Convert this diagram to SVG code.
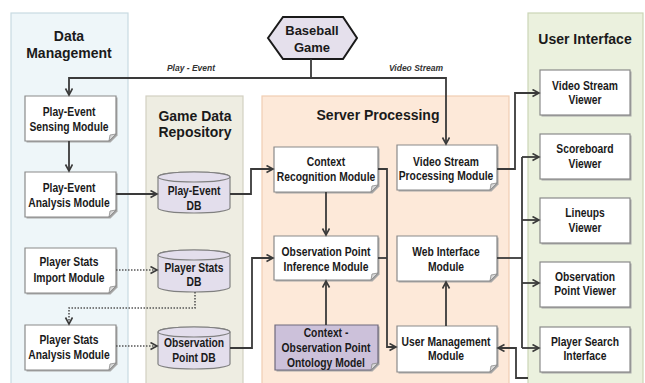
<svg xmlns="http://www.w3.org/2000/svg" width="645" height="383" viewBox="0 0 645 383">
<defs>
<marker id="arr" markerWidth="10" markerHeight="10" refX="7" refY="4" orient="auto" markerUnits="userSpaceOnUse">
<path d="M0.5,0.5 L7,4 L0.5,7.5" fill="none" stroke="#3a3a3a" stroke-width="1.6"/>
</marker>
<style>
.pt{font-family:"Liberation Sans",Arial,sans-serif;font-weight:bold;font-size:14px;fill:#1a1a1a;text-anchor:middle}
.nt{font-family:"Liberation Sans",Arial,sans-serif;font-weight:bold;font-size:12px;fill:#1a1a1a;text-anchor:middle;transform-box:fill-box;transform-origin:center;transform:scaleX(0.86)}
.el{font-family:"Liberation Sans",Arial,sans-serif;font-weight:bold;font-style:italic;font-size:8.5px;fill:#333;text-anchor:middle}
.doc{fill:#fff;stroke:#8a8a8a;stroke-width:1.2}
.sh{fill:#a8a8a8}
.fold{fill:#d8d8d8;stroke:#8a8a8a;stroke-width:0.8}
.db{fill:#e3deec;stroke:#808080;stroke-width:1.2}
.ln{fill:none;stroke:#3a3a3a;stroke-width:1.8}
.dt{fill:none;stroke:#555;stroke-width:1.6;stroke-dasharray:1.5 1.5}
</style>
</defs>

<!-- panels -->
<g id="panel-data-management">
<rect x="11" y="13" width="117" height="372" fill="#eef6f9" stroke="#c9dbe2" stroke-width="1.2"/>
<text class="pt" x="69" y="41">Data</text>
<text class="pt" x="69" y="58">Management</text>
</g>
<g id="panel-game-data-repository">
<rect x="146" y="96" width="97" height="289" fill="#eeede2" stroke="#d2d0c2" stroke-width="1.2"/>
<text class="pt" x="195" y="121">Game Data</text>
<text class="pt" x="195" y="137">Repository</text>
</g>
<g id="panel-server-processing">
<rect x="262" y="96" width="247" height="289" fill="#fde9d9" stroke="#f1cdb2" stroke-width="1.2"/>
<text class="pt" x="378" y="120">Server Processing</text>
</g>
<g id="panel-user-interface">
<rect x="528" y="13" width="115" height="372" fill="#ebf1de" stroke="#cbd6b6" stroke-width="1.2"/>
<text class="pt" x="585" y="44">User Interface</text>
</g>

<!-- Baseball Game -->
<g id="baseball-game">
<polygon points="268,38 283,17 343,17 357,38 343,59 283,59" fill="#e5e0ec" stroke="#1a1a1a" stroke-width="2"/>
<text class="pt" x="312" y="35" style="font-size:13px">Baseball</text>
<text class="pt" x="312" y="52" style="font-size:13px">Game</text>
</g>

<!-- Data Management nodes -->
<g id="play-event-sensing-module">
<path class="sh" d="M26.5,97.5 H117.5 V135.5 L110.5,142.5 H26.5 Z"/>
<path class="doc" d="M25,96 H116 V134 L109,141 H25 Z"/>
<path class="fold" d="M109,141 L110,135 L116,134 Z"/>
<text class="nt" x="69" y="116">Play-Event</text>
<text class="nt" x="69" y="131">Sensing Module</text>
</g>
<g id="play-event-analysis-module">
<path class="sh" d="M26.5,173.5 H117.5 V211.5 L110.5,218.5 H26.5 Z"/>
<path class="doc" d="M25,172 H116 V210 L109,217 H25 Z"/>
<path class="fold" d="M109,217 L110,211 L116,210 Z"/>
<text class="nt" x="69" y="192">Play-Event</text>
<text class="nt" x="69" y="207">Analysis Module</text>
</g>
<g id="player-stats-import-module">
<path class="sh" d="M26.5,249.5 H117.5 V287.5 L110.5,294.5 H26.5 Z"/>
<path class="doc" d="M25,248 H116 V286 L109,293 H25 Z"/>
<path class="fold" d="M109,293 L110,287 L116,286 Z"/>
<text class="nt" x="69" y="266">Player Stats</text>
<text class="nt" x="69" y="282">Import Module</text>
</g>
<g id="player-stats-analysis-module">
<path class="sh" d="M26.5,326.5 H117.5 V364.5 L110.5,371.5 H26.5 Z"/>
<path class="doc" d="M25,325 H116 V363 L109,370 H25 Z"/>
<path class="fold" d="M109,370 L110,364 L116,363 Z"/>
<text class="nt" x="69" y="344">Player Stats</text>
<text class="nt" x="69" y="359">Analysis Module</text>
</g>

<!-- DBs -->
<g id="play-event-db">
<path class="db" d="M158,177 A36,5 0 0 1 230,177 V208 A36,5 0 0 1 158,208 Z"/>
<ellipse class="db" cx="194" cy="177" rx="36" ry="5"/>
<text class="nt" x="194" y="195">Play-Event</text>
<text class="nt" x="194" y="210">DB</text>
</g>
<g id="player-stats-db">
<path class="db" d="M158,255 A36,5 0 0 1 230,255 V287 A36,5 0 0 1 158,287 Z"/>
<ellipse class="db" cx="194" cy="255" rx="36" ry="5"/>
<text class="nt" x="194" y="272">Player Stats</text>
<text class="nt" x="194" y="286">DB</text>
</g>
<g id="observation-point-db">
<path class="db" d="M158,332 A36,5 0 0 1 230,332 V364 A36,5 0 0 1 158,364 Z"/>
<ellipse class="db" cx="194" cy="332" rx="36" ry="5"/>
<text class="nt" x="194" y="347">Observation</text>
<text class="nt" x="194" y="362">Point DB</text>
</g>

<!-- Server nodes -->
<g id="context-recognition-module">
<path class="sh" d="M275.5,148.5 H379.5 V186.5 L372.5,193.5 H275.5 Z"/>
<path class="doc" d="M274,147 H378 V185 L371,192 H274 Z"/>
<path class="fold" d="M371,192 L372,186 L378,185 Z"/>
<text class="nt" x="326" y="166">Context</text>
<text class="nt" x="326" y="181">Recognition Module</text>
</g>
<g id="observation-point-inference-module">
<path class="sh" d="M275.5,237.5 H379.5 V274.5 L372.5,281.5 H275.5 Z"/>
<path class="doc" d="M274,236 H378 V273 L371,280 H274 Z"/>
<path class="fold" d="M371,280 L372,274 L378,273 Z"/>
<text class="nt" x="326" y="256">Observation Point</text>
<text class="nt" x="326" y="271">Inference Module</text>
</g>
<g id="ontology-model">
<path class="sh" d="M276.5,326.5 H379.5 V364.5 L372.5,371.5 H276.5 Z"/>
<path d="M275,325 H378 V363 L371,370 H275 Z" fill="#ccc1da" stroke="#6f6a7c" stroke-width="1.2"/>
<path class="fold" d="M371,370 L372,364 L378,363 Z"/>
<text class="nt" x="326" y="337">Context -</text>
<text class="nt" x="326" y="352">Observation Point</text>
<text class="nt" x="326" y="367">Ontology Model</text>
</g>
<g id="video-stream-processing-module">
<path class="sh" d="M398.5,146.5 H498.5 V184.5 L491.5,191.5 H398.5 Z"/>
<path class="doc" d="M397,145 H497 V183 L490,190 H397 Z"/>
<path class="fold" d="M490,190 L491,184 L497,183 Z"/>
<text class="nt" x="446" y="166">Video Stream</text>
<text class="nt" x="446" y="180">Processing Module</text>
</g>
<g id="web-interface-module">
<path class="sh" d="M398.5,237.5 H498.5 V275.5 L491.5,282.5 H398.5 Z"/>
<path class="doc" d="M397,236 H497 V274 L490,281 H397 Z"/>
<path class="fold" d="M490,281 L491,275 L497,274 Z"/>
<text class="nt" x="446" y="256">Web Interface</text>
<text class="nt" x="446" y="271">Module</text>
</g>
<g id="user-management-module">
<path class="sh" d="M398.5,327.5 H498.5 V366.5 L491.5,373.5 H398.5 Z"/>
<path class="doc" d="M397,326 H497 V365 L490,372 H397 Z"/>
<path class="fold" d="M490,372 L491,366 L497,365 Z"/>
<text class="nt" x="446" y="346">User Management</text>
<text class="nt" x="446" y="360">Module</text>
</g>

<!-- UI nodes -->
<g id="video-stream-viewer">
<rect class="sh" x="541.5" y="71.5" width="90" height="45"/>
<rect class="doc" x="540" y="70" width="90" height="45"/>
<text class="nt" x="585" y="90">Video Stream</text>
<text class="nt" x="585" y="104">Viewer</text>
</g>
<g id="scoreboard-viewer">
<rect class="sh" x="541.5" y="135.5" width="90" height="45"/>
<rect class="doc" x="540" y="134" width="90" height="45"/>
<text class="nt" x="585" y="153">Scoreboard</text>
<text class="nt" x="585" y="168">Viewer</text>
</g>
<g id="lineups-viewer">
<rect class="sh" x="541.5" y="199.5" width="90" height="45"/>
<rect class="doc" x="540" y="198" width="90" height="45"/>
<text class="nt" x="585" y="217">Lineups</text>
<text class="nt" x="585" y="232">Viewer</text>
</g>
<g id="observation-point-viewer">
<rect class="sh" x="541.5" y="263.5" width="90" height="45"/>
<rect class="doc" x="540" y="262" width="90" height="45"/>
<text class="nt" x="585" y="281">Observation</text>
<text class="nt" x="585" y="295">Point Viewer</text>
</g>
<g id="player-search-interface">
<rect class="sh" x="541.5" y="328.5" width="90" height="45"/>
<rect class="doc" x="540" y="327" width="90" height="45"/>
<text class="nt" x="585" y="346">Player Search</text>
<text class="nt" x="585" y="360">Interface</text>
</g>

<!-- connectors -->
<g id="connectors">
<path class="ln" d="M311,59 V78 H69 V95" marker-end="url(#arr)"/>
<path class="ln" d="M311,78 H446 V144" marker-end="url(#arr)"/>
<text class="el" x="191" y="71">Play - Event</text>
<text class="el" x="416" y="71">Video Stream</text>
<path class="ln" d="M69,141 V171" marker-end="url(#arr)"/>
<path class="ln" d="M116,194 H157" marker-end="url(#arr)"/>
<path class="dt" d="M116,270 H157" marker-end="url(#arr)"/>
<path class="dt" d="M195,292 V308 H69 V324" marker-end="url(#arr)"/>
<path class="dt" d="M116,346 H157" marker-end="url(#arr)"/>
<path class="ln" d="M230,194 H251 V169 H273" marker-end="url(#arr)"/>
<path class="ln" d="M230,348 H252 V258 H273" marker-end="url(#arr)"/>
<path class="ln" d="M326,192 V235" marker-end="url(#arr)"/>
<path class="ln" d="M326,325 V281" marker-end="url(#arr)"/>
<path class="ln" d="M378,169 H387 V347 H396" marker-end="url(#arr)"/>
<path class="ln" d="M378,258 H387"/>
<path class="ln" d="M446,326 V282" marker-end="url(#arr)"/>
<path class="ln" d="M497,169 H515 V93 H539" marker-end="url(#arr)"/>
<path class="ln" d="M497,258 H522"/>
<path class="ln" d="M522,157 V348"/>
<path class="ln" d="M522,157 H539" marker-end="url(#arr)"/>
<path class="ln" d="M522,220 H539" marker-end="url(#arr)"/>
<path class="ln" d="M522,283 H539" marker-end="url(#arr)"/>
<path class="ln" d="M522,348 H539" marker-end="url(#arr)"/>
<path class="ln" d="M528,378 H516 V348 H498" marker-end="url(#arr)"/>
</g>
</svg>
